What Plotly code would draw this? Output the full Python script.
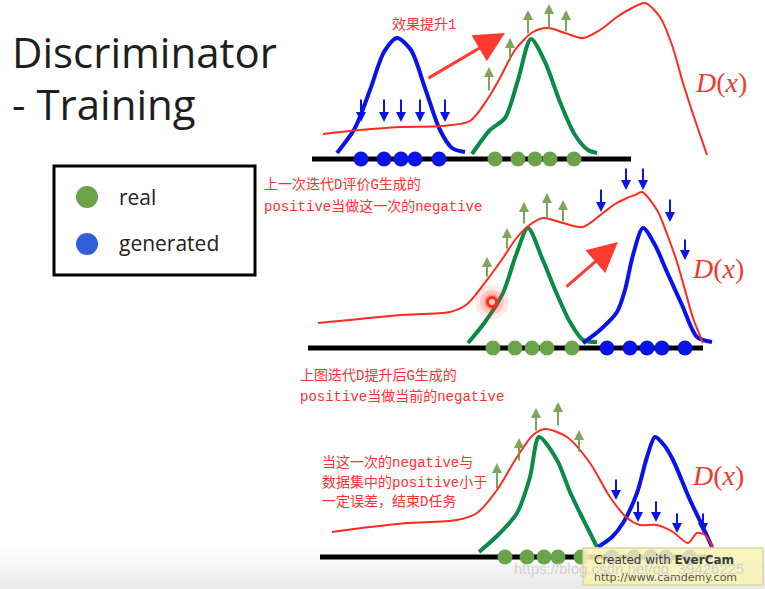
import plotly.graph_objects as go

W, H = 765, 589

# ---------------- data (pixel-space illustration) ----------------
# Panel 1
p1_base_x = [312, 631]; p1_base_y = [159, 159]
p1_blue_dots_x = [361, 384, 401, 415, 439]; p1_dots_y = 159
p1_green_dots_x = [495, 518, 535, 550, 574]
p1_blue_x = [337, 355, 370, 384, 397, 411, 425, 440, 452, 465]
p1_blue_y = [153, 128, 90, 52, 38, 50, 88, 130, 148, 152]
p1_green_x = [472, 490, 505, 518, 531, 545, 560, 575, 588, 597]
p1_green_y = [154, 130, 118, 80, 39, 62, 102, 135, 150, 153]
p1_red_x = [323, 360, 400, 443, 470, 487, 500, 515, 533, 548, 565, 583, 600, 617, 632, 645, 660, 672, 683, 695, 707]
p1_red_y = [134, 130, 127, 126, 121, 100, 78, 50, 32, 28, 33, 38, 30, 17, 8, 3, 17, 45, 83, 120, 155]
p1_up_x = [489, 510, 528, 549, 566]
p1_up_y0 = [92, 62, 35, 30, 33]; p1_up_y1 = [67, 38, 10, 4, 10]
p1_down_x = [361, 384, 401, 420, 445]
p1_down_y0 = [98, 98, 98, 98, 98]; p1_down_y1 = [122, 122, 122, 122, 122]

# Panel 2
p2_base_x = [308, 703]; p2_base_y = [348, 348]
p2_dots_y = 348
p2_green_dots_x = [493, 515, 532, 547, 572]
p2_blue_dots_x = [607, 630, 647, 662, 685]
p2_green_x = [468, 485, 503, 516, 528, 542, 556, 570, 583, 597]
p2_green_y = [343, 322, 293, 255, 228, 258, 292, 322, 340, 342]
p2_blue_x = [583, 600, 617, 625, 633, 643, 655, 667, 682, 697, 712]
p2_blue_y = [343, 330, 312, 290, 255, 228, 245, 272, 305, 337, 342]
p2_red_x = [318, 360, 400, 450, 466, 477, 490, 503, 515, 527, 543, 563, 583, 603, 615, 627, 635, 642, 657, 667, 677, 685, 693, 703]
p2_red_y = [323, 319, 315, 312, 305, 293, 276, 258, 240, 227, 218, 223, 227, 213, 204, 198, 195, 192, 210, 234, 262, 290, 318, 343]
p2_up_x = [487, 507, 524, 547, 563]
p2_up_y0 = [278, 250, 225, 220, 223]; p2_up_y1 = [257, 228, 202, 193, 200]
p2_down_x = [601, 626, 643, 670, 685]
p2_down_y0 = [188, 167, 167, 198, 238]; p2_down_y1 = [212, 190, 190, 222, 260]
p2_glow_x = [492]; p2_glow_y = [302]

# Panel 3
p3_base_x = [320, 712]; p3_base_y = [557, 557]
p3_dots_y = 557
p3_green_dots_x = [505, 527, 544, 558, 581]
p3_blue_dots_x = [612, 634, 651, 666, 690]
p3_green_x = [479, 498, 517, 530, 539, 557, 570, 580, 590, 597]
p3_green_y = [552, 535, 513, 477, 437, 460, 492, 513, 533, 547]
p3_blue_x = [598, 612, 623, 637, 647, 655, 664, 673, 690, 702, 712]
p3_blue_y = [547, 537, 523, 493, 457, 437, 445, 460, 500, 525, 547]
p3_red_x = [332, 370, 407, 457, 477, 497, 517, 533, 545, 567, 590, 610, 627, 640, 657, 673, 688, 697, 705, 713]
p3_red_y = [532, 527, 523, 520, 513, 490, 457, 435, 429, 437, 463, 497, 518, 525, 525, 532, 543, 533, 535, 548]
p3_up_x = [497, 519, 536, 558, 579]
p3_up_y0 = [490, 462, 432, 427, 453]; p3_up_y1 = [463, 438, 408, 402, 430]
p3_down_x = [616, 638, 656, 677, 703]
p3_down_y0 = [478, 500, 500, 512, 512]; p3_down_y1 = [500, 522, 522, 533, 533]

# Text
title_lines = ["Discriminator", "- Training"]
legend_labels = ["real", "generated"]
note1 = "效果提升1"
note2 = ["上一次迭代D评价G生成的", "positive当做这一次的negative"]
note3 = ["上图迭代D提升后G生成的", "positive当做当前的negative"]
note4 = ["当这一次的negative与", "数据集中的positive小于", "一定误差，结束D任务"]

BLUE = "#0a14e6"
GREEN = "#0b8a48"
DOT_GREEN = "#6aa34a"
RED = "#ff2a1f"
ARROW_GREEN = "rgba(105,150,60,0.85)"
TXT_RED = "#ff3030"

fig = go.Figure()

def line(x, y, color, width, shape="spline"):
    fig.add_trace(go.Scatter(x=x, y=y, mode="lines", line=dict(color=color, width=width, shape=shape, smoothing=0.8),
                             hoverinfo="skip", showlegend=False))

def dots(xs, y, color, size=15):
    fig.add_trace(go.Scatter(x=xs, y=[y] * len(xs), mode="markers",
                             marker=dict(color=color, size=size, line=dict(width=0)),
                             hoverinfo="skip", showlegend=False))

anns = []

def arrows(xs, y0s, y1s, color, width=2, head=2, size=1.0):
    for x, a, b in zip(xs, y0s, y1s):
        anns.append(dict(x=x, y=b, ax=x, ay=a, xref="x", yref="y", axref="x", ayref="y",
                         showarrow=True, arrowhead=head, arrowsize=size, arrowwidth=width,
                         arrowcolor=color, text=""))

# baselines
for bx, by in [(p1_base_x, p1_base_y), (p2_base_x, p2_base_y), (p3_base_x, p3_base_y)]:
    line(bx, by, "black", 5, "linear")

# panel 1
line(p1_blue_x, p1_blue_y, BLUE, 4)
line(p1_green_x, p1_green_y, GREEN, 4)
line(p1_red_x, p1_red_y, RED, 2)
dots(p1_blue_dots_x, p1_dots_y, BLUE)
dots(p1_green_dots_x, p1_dots_y, DOT_GREEN)
arrows(p1_up_x, p1_up_y0, p1_up_y1, ARROW_GREEN)
arrows(p1_down_x, p1_down_y0, p1_down_y1, BLUE)

# panel 2
line(p2_green_x, p2_green_y, GREEN, 4)
line(p2_blue_x, p2_blue_y, BLUE, 4)
line(p2_red_x, p2_red_y, RED, 2)
dots(p2_green_dots_x, p2_dots_y, DOT_GREEN)
dots(p2_blue_dots_x, p2_dots_y, BLUE)
arrows(p2_up_x, p2_up_y0, p2_up_y1, ARROW_GREEN)
arrows(p2_down_x, p2_down_y0, p2_down_y1, BLUE)
for s, op in [(34, 0.10), (24, 0.18), (16, 0.3)]:
    fig.add_trace(go.Scatter(x=p2_glow_x, y=p2_glow_y, mode="markers",
                             marker=dict(color=RED, size=s, opacity=op, line=dict(width=0)),
                             hoverinfo="skip", showlegend=False))
fig.add_trace(go.Scatter(x=p2_glow_x, y=p2_glow_y, mode="markers",
                         marker=dict(color="#ffd0c8", size=9, line=dict(color=RED, width=3)),
                         hoverinfo="skip", showlegend=False))

# panel 3
line(p3_green_x, p3_green_y, GREEN, 4)
line(p3_blue_x, p3_blue_y, BLUE, 4)
line(p3_red_x, p3_red_y, RED, 2)
dots(p3_green_dots_x, p3_dots_y, DOT_GREEN)
dots(p3_blue_dots_x, p3_dots_y, BLUE)
arrows(p3_up_x, p3_up_y0, p3_up_y1, ARROW_GREEN)
arrows(p3_down_x, p3_down_y0, p3_down_y1, BLUE)

# big red arrows
for (x0, y0, x1, y1) in [(427, 79, 505, 33), (565, 288, 618, 242)]:
    anns.append(dict(x=x1, y=y1, ax=x0, ay=y0, xref="x", yref="y", axref="x", ayref="y",
                     showarrow=True, arrowhead=2, arrowsize=2.0, arrowwidth=3,
                     arrowcolor="#ff3b30", text=""))

# D(x) labels
for (x, y) in [(693, 82), (690, 268), (690, 475)]:
    anns.append(dict(x=x, y=y, xref="x", yref="y", text="<i>D</i>(<i>x</i>)", showarrow=False,
                     xanchor="left", yanchor="middle",
                     font=dict(family="Liberation Serif", size=28, color="#f03a30")))

# Title
anns.append(dict(x=10, y=51, xref="x", yref="y", text=title_lines[0], showarrow=False,
                 xanchor="left", yanchor="middle",
                 font=dict(family="Open Sans", size=42, color="#1e1e1e")))
anns.append(dict(x=10, y=103, xref="x", yref="y", text=title_lines[1], showarrow=False,
                 xanchor="left", yanchor="middle",
                 font=dict(family="Open Sans", size=42, color="#1e1e1e")))

# Legend box
fig.add_shape(type="rect", x0=54, y0=166, x1=255, y1=275, xref="x", yref="y",
              line=dict(color="black", width=3), fillcolor="white", layer="below")
fig.add_trace(go.Scatter(x=[87], y=[197], mode="markers", marker=dict(color=DOT_GREEN, size=22),
                         hoverinfo="skip", showlegend=False))
fig.add_trace(go.Scatter(x=[87], y=[244], mode="markers", marker=dict(color="#2e5fd6", size=22),
                         hoverinfo="skip", showlegend=False))
for lab, y in zip(legend_labels, [197, 243]):
    anns.append(dict(x=117, y=y, xref="x", yref="y", text=lab, showarrow=False,
                     xanchor="left", yanchor="middle",
                     font=dict(family="Open Sans", size=21, color="#222")))

# Chinese notes
FONT_NOTE = "Liberation Mono, Noto Sans CJK SC"
anns.append(dict(x=390, y=25, xref="x", yref="y", text=note1, showarrow=False,
                 xanchor="left", yanchor="middle", font=dict(family=FONT_NOTE, size=14, color=TXT_RED)))
for i, t in enumerate(note2):
    anns.append(dict(x=262, y=185 + 21 * i, xref="x", yref="y", text=t, showarrow=False,
                     xanchor="left", yanchor="middle", font=dict(family=FONT_NOTE, size=14, color=TXT_RED)))
for i, t in enumerate(note3):
    anns.append(dict(x=298, y=376 + 20 * i, xref="x", yref="y", text=t, showarrow=False,
                     xanchor="left", yanchor="middle", font=dict(family=FONT_NOTE, size=14, color=TXT_RED)))
for i, t in enumerate(note4):
    anns.append(dict(x=320, y=462 + 20 * i, xref="x", yref="y", text=t, showarrow=False,
                     xanchor="left", yanchor="middle", font=dict(family=FONT_NOTE, size=14, color=TXT_RED)))

# bottom gradient
for k in range(12):
    y0 = 545 + k * 4
    g = 255 - int(k * 2.2)
    fig.add_shape(type="rect", x0=0, x1=W, y0=y0, y1=y0 + 4, xref="x", yref="y",
                  line=dict(width=0), fillcolor=f"rgb({g},{g},{g})", layer="below")

# watermark box
fig.add_shape(type="rect", x0=583, y0=548, x1=763, y1=585, xref="x", yref="y",
              line=dict(color="rgba(215,210,150,0.9)", width=1.5), fillcolor="rgba(246,242,180,0.88)", layer="above")
anns.append(dict(x=592, y=560, xref="x", yref="y", text="Created with <b>EverCam</b>", showarrow=False,
                 xanchor="left", yanchor="middle", font=dict(family="DejaVu Sans", size=12, color="#3a3a3a")))
anns.append(dict(x=592, y=577, xref="x", yref="y", text="http://www.camdemy.com", showarrow=False,
                 xanchor="left", yanchor="middle", font=dict(family="DejaVu Sans", size=11, color="#555")))
anns.append(dict(x=512, y=568, xref="x", yref="y", text="https://blog.csdn.net/qq_39426225", showarrow=False,
                 xanchor="left", yanchor="middle", font=dict(family="Liberation Sans", size=15, color="rgba(205,205,205,0.95)")))

fig.update_layout(
    width=W, height=H, margin=dict(l=0, r=0, t=0, b=0),
    paper_bgcolor="white", plot_bgcolor="white",
    xaxis=dict(range=[0, W], visible=False, fixedrange=True),
    yaxis=dict(range=[H, 0], visible=False, fixedrange=True),
    annotations=anns, showlegend=False,
)
fig.write_html("out.html")
